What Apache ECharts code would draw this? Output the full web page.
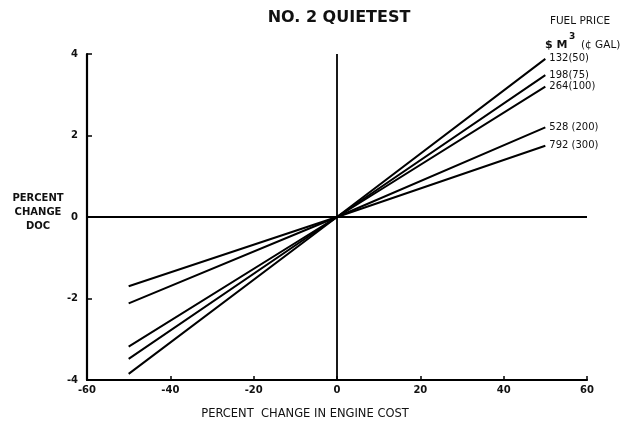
<!DOCTYPE html>
<html>
<head>
<meta charset="utf-8">
<script src="https://cdn.jsdelivr.net/npm/echarts@6/dist/echarts.min.js"></script>
<style>html,body{margin:0;padding:0;background:#fff}#c{width:626px;height:424px}</style>
</head>
<body>
<div id="c"></div>
<script>
// Data
var xEnds = [-50, 0, 50];
var seriesNames = ['132(50)', '198(75)', '264(100)', '528 (200)', '792 (300)'];
var s132 = [-3.85, 0, 3.88];
var s198 = [-3.48, 0, 3.48];
var s264 = [-3.18, 0, 3.2];
var s528 = [-2.12, 0, 2.2];
var s792 = [-1.7, 0, 1.75];
var seriesValues = [s132, s198, s264, s528, s792];
var xTicks = [-60, -40, -20, 0, 20, 40, 60];
var xTickLabels = ['-60', '-40', '-20', '0', '20', '40', '60'];
var yTicks = [-4, -2, 0, 2, 4];
var yTickLabels = ['-4', '-2', '0', '2', '4'];

var FONT = 'DejaVu Sans';
var chart = echarts.init(document.getElementById('c'), null, {renderer: 'canvas'});

var series = seriesNames.map(function (name, i) {
  return {
    name: name,
    type: 'line',
    data: xEnds.map(function (x, j) { return [x, seriesValues[i][j]]; }),
    symbol: 'none',
    lineStyle: {color: '#000', width: 2},
    endLabel: {
      show: true,
      formatter: name,
      color: '#111',
      fontFamily: FONT,
      fontSize: 10,
      distance: 4
    },
    z: 3
  };
});
// reference lines through origin
series.push({
  type: 'line', data: [[0, -4], [0, 4]], symbol: 'none',
  lineStyle: {color: '#000', width: 1.8}, silent: true, z: 2
});
series.push({
  type: 'line', data: [[-60, 0], [60, 0]], symbol: 'none',
  lineStyle: {color: '#000', width: 2.2}, silent: true, z: 2
});

var small = {fontFamily: FONT, fontSize: 10.5, fontWeight: 'normal', color: '#111'};

chart.setOption({
  animation: false,
  backgroundColor: '#fff',
  title: [
    {text: 'NO. 2 QUIETEST', left: 334, top: 5, textAlign: 'center',
      textStyle: {fontFamily: FONT, fontSize: 16, fontWeight: 'bold', color: '#111'}},
    {text: 'FUEL PRICE', left: 575, top: 11, textAlign: 'center', textStyle: small},
    {text: '$ M', left: 540, top: 35, textStyle: {fontFamily: FONT, fontSize: 11, fontWeight: 'bold', color: '#111'}},
    {text: '3', left: 564, top: 27, textStyle: {fontFamily: FONT, fontSize: 9, fontWeight: 'bold', color: '#111'}},
    {text: '(¢ GAL)', left: 576, top: 35, textStyle: small},
    {text: 'PERCENT\nCHANGE\nDOC', left: 33, top: 186, textAlign: 'center',
      textStyle: {fontFamily: FONT, fontSize: 10, fontWeight: 'bold', color: '#111', lineHeight: 14}},
    {text: 'PERCENT  CHANGE IN ENGINE COST', left: 300, top: 403, textAlign: 'center',
      textStyle: {fontFamily: FONT, fontSize: 11.5, fontWeight: 'normal', color: '#111'}}
  ],
  grid: {left: 87, right: 39, top: 54, bottom: 44},
  xAxis: {
    type: 'value', min: -60, max: 60, interval: 20,
    axisLine: {show: true, onZero: false, lineStyle: {color: '#000', width: 2.2}},
    axisTick: {show: true, inside: true, length: 4, lineStyle: {color: '#000', width: 1.5}},
    splitLine: {show: false},
    axisLabel: {
      color: '#111', fontFamily: FONT, fontSize: 10, fontWeight: 'bold', margin: 5,
      formatter: function (v) { var k = xTicks.indexOf(v); return k >= 0 ? xTickLabels[k] : ''; }
    }
  },
  yAxis: {
    type: 'value', min: -4, max: 4, interval: 2,
    axisLine: {show: true, onZero: false, lineStyle: {color: '#000', width: 2.2}},
    axisTick: {show: true, inside: true, length: 5, lineStyle: {color: '#000', width: 1.5}},
    splitLine: {show: false},
    axisLabel: {
      color: '#111', fontFamily: FONT, fontSize: 10, fontWeight: 'bold', margin: 9,
      formatter: function (v) { var k = yTicks.indexOf(v); return k >= 0 ? yTickLabels[k] : ''; }
    }
  },
  series: series
});
</script>
</body>
</html>
